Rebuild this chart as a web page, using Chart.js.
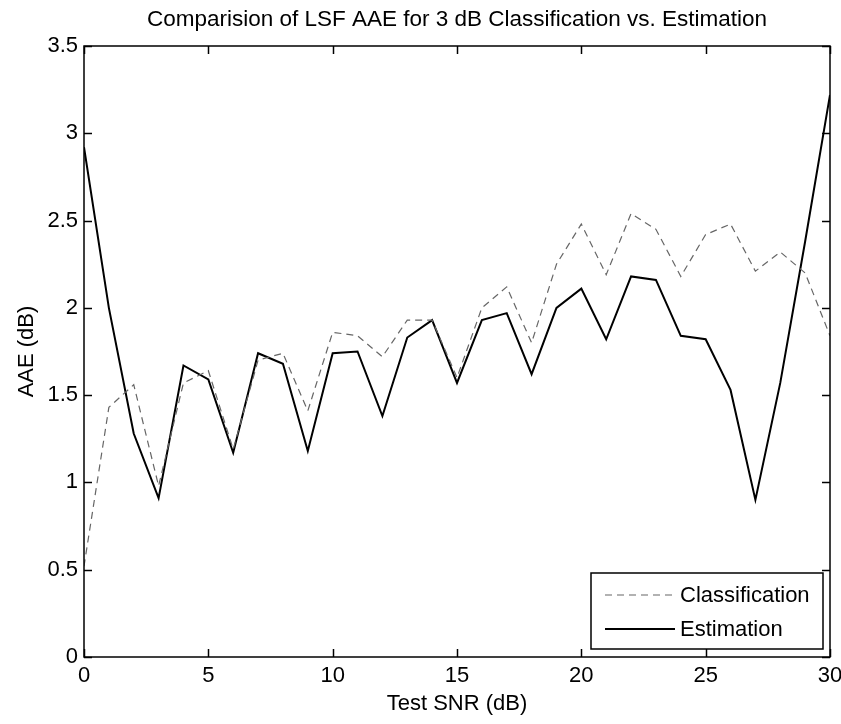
<!DOCTYPE html>
<html>
<head>
<meta charset="utf-8">
<script src="https://cdn.jsdelivr.net/npm/chart.js@4/dist/chart.umd.min.js"></script>
<style>
  html, body { margin: 0; padding: 0; background: #fff; }
  #wrap { width: 841px; height: 724px; }
</style>
</head>
<body>
<div id="wrap"><canvas id="aae"></canvas></div>
<script>
// AAE of LSF, 3 dB classification vs estimation

const snr = [0, 1, 2, 3, 4, 5, 6, 7, 8, 9, 10, 11, 12, 13, 14, 15, 16, 17, 18, 19, 20,
             21, 22, 23, 24, 25, 26, 27, 28, 29, 30];

const classification = [0.52, 1.43, 1.56, 0.98, 1.57, 1.64, 1.19, 1.70, 1.74, 1.41, 1.86,
                        1.84, 1.72, 1.93, 1.93, 1.60, 2.00, 2.12, 1.80, 2.25, 2.48,
                        2.19, 2.54, 2.45, 2.18, 2.42, 2.48, 2.21, 2.32, 2.20, 1.84];

const estimation = [2.92, 2.00, 1.28, 0.91, 1.67, 1.59, 1.17, 1.74, 1.68, 1.18, 1.74,
                    1.75, 1.38, 1.83, 1.93, 1.57, 1.93, 1.97, 1.62, 2.00, 2.11,
                    1.82, 2.18, 2.16, 1.84, 1.82, 1.53, 0.90, 1.57, 2.38, 3.22];

const xTicks = [0, 5, 10, 15, 20, 25, 30];
const yTicks = [0, 0.5, 1, 1.5, 2, 2.5, 3, 3.5];

const FONT = "'Liberation Sans', Arial, sans-serif";

const toPoints = (ys) => snr.map((x, i) => ({ x, y: ys[i] }));

// box round the axes, with tick marks pointing inwards (like MATLAB)
const axesBox = {
  id: 'axesBox',
  afterDatasetsDraw(chart) {
    const { ctx, chartArea: a, scales: { x, y } } = chart;
    const seg = (x1, y1, x2, y2) => { ctx.beginPath(); ctx.moveTo(x1, y1); ctx.lineTo(x2, y2); ctx.stroke(); };
    ctx.save();
    ctx.strokeStyle = '#000';
    ctx.lineWidth = 1.5;
    ctx.strokeRect(a.left, a.top, a.right - a.left, a.bottom - a.top);
    const tl = 8;
    xTicks.forEach(v => {
      const px = Math.round(x.getPixelForValue(v)) + 0.5;
      seg(px, a.bottom, px, a.bottom - tl);
      seg(px, a.top, px, a.top + tl);
    });
    yTicks.forEach(v => {
      const py = Math.round(y.getPixelForValue(v)) + 0.5;
      seg(a.left, py, a.left + tl, py);
      seg(a.right, py, a.right - tl, py);
    });
    ctx.restore();
  }
};

// legend box in the lower right corner
const boxLegend = {
  id: 'boxLegend',
  afterDraw(chart) {
    const { ctx, chartArea: a } = chart;
    const w = 232, h = 76;
    const bx = a.right - 7 - w, by = a.bottom - 8 - h;
    ctx.save();
    ctx.fillStyle = '#fff';
    ctx.fillRect(bx, by, w, h);
    ctx.strokeStyle = '#000';
    ctx.lineWidth = 1.5;
    ctx.strokeRect(bx, by, w, h);
    ctx.font = '22px ' + FONT;
    ctx.textBaseline = 'middle';
    ctx.fillStyle = '#000';
    chart.data.datasets.forEach((ds, i) => {
      const cy = by + 22 + i * 34;
      ctx.strokeStyle = ds.borderColor;
      ctx.lineWidth = ds.borderWidth;
      ctx.setLineDash(ds.borderDash || []);
      ctx.beginPath();
      ctx.moveTo(bx + 14, cy);
      ctx.lineTo(bx + 84, cy);
      ctx.stroke();
      ctx.setLineDash([]);
      ctx.fillText(ds.label, bx + 89, cy + 1);
    });
    ctx.restore();
  }
};

new Chart(document.getElementById('aae'), {
  type: 'line',
  data: {
    datasets: [
      {
        label: 'Classification',
        data: toPoints(classification),
        borderColor: '#666',
        borderWidth: 1.2,
        borderDash: [7, 5],
        pointRadius: 0,
        tension: 0
      },
      {
        label: 'Estimation',
        data: toPoints(estimation),
        borderColor: '#000',
        borderWidth: 2,
        pointRadius: 0,
        tension: 0
      }
    ]
  },
  options: {
    responsive: true,
    maintainAspectRatio: false,
    animation: false,
    layout: { padding: { left: 0, right: 11, top: 0, bottom: 0 } },
    plugins: {
      legend: { display: false },
      tooltip: { enabled: false },
      title: {
        display: true,
        fullSize: false,
        text: 'Comparision of LSF AAE for 3 dB Classification vs. Estimation',
        color: '#000',
        font: { family: FONT, size: 22.5, weight: 'normal' },
        padding: { top: 6, bottom: 13 }
      }
    },
    scales: {
      x: {
        type: 'linear',
        min: 0,
        max: 30,
        grid: { display: false, drawTicks: false },
        border: { display: false },
        afterBuildTicks: (s) => { s.ticks = xTicks.map(v => ({ value: v })); },
        afterFit: (s) => { s.height = 67; s.paddingLeft = 0; s.paddingRight = 0; },
        ticks: {
          color: '#000',
          padding: 6,
          maxRotation: 0,
          font: { family: FONT, size: 22 }
        },
        title: {
          display: true,
          text: 'Test SNR (dB)',
          color: '#000',
          padding: { top: 0, bottom: 7 },
          font: { family: FONT, size: 22 }
        }
      },
      y: {
        min: 0,
        max: 3.5,
        grid: { display: false, drawTicks: false },
        border: { display: false },
        afterBuildTicks: (s) => { s.ticks = yTicks.map(v => ({ value: v })); },
        afterFit: (s) => { s.width = 84; s.paddingTop = 0; s.paddingBottom = 0; },
        ticks: {
          color: '#000',
          padding: 6,
          font: { family: FONT, size: 22 },
          callback: (v) => String(v)
        },
        title: {
          display: true,
          text: 'AAE (dB)',
          color: '#000',
          padding: { top: 14, bottom: 0 },
          font: { family: FONT, size: 22 }
        }
      }
    }
  },
  plugins: [axesBox, boxLegend]
});
</script>
</body>
</html>
